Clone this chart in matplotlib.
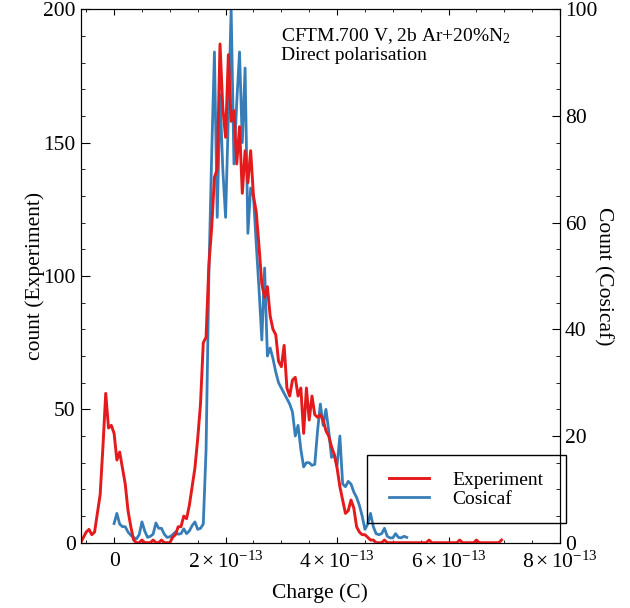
import numpy as np
import matplotlib
matplotlib.use('Agg')
import matplotlib.pyplot as plt
from matplotlib.ticker import MultipleLocator, FuncFormatter
from matplotlib.patches import Rectangle

plt.rcParams['font.family'] = 'Liberation Serif'
plt.rcParams['mathtext.fontset'] = 'custom'
plt.rcParams['mathtext.rm'] = 'Liberation Serif'
plt.rcParams['mathtext.it'] = 'Liberation Serif:italic'

# experiment histogram (left axis), bins of 0.05e-13 C from -0.6e-13 C
exp_start = -0.6e-13
exp_step = 0.05e-13
exp_counts = [0, 2, 4, 5, 3, 4, 11, 18, 36, 56,
              43, 44, 41, 31, 34, 28, 22, 12, 6, 1,
              0, 0, 1, 0, 0, 0, 1, 0, 0, 1,
              0, 0, 0, 2, 3, 6, 6, 10, 9, 14,
              21, 28, 39, 52, 75, 77, 104, 118, 137, 140,
              187, 163, 152, 183, 158, 162, 142, 156, 131, 147,
              135, 147, 130, 124, 111, 97, 92, 96, 85, 80,
              78, 68, 66, 74, 58, 55, 61, 62, 55, 58,
              41, 58, 46, 55, 48, 47, 48, 46, 42, 40,
              36, 33, 28, 21, 16, 11, 12, 16, 13, 6,
              4, 3, 3, 2, 1, 1, 0, 0, 0, 1,
              0, 0, 0, 0, 0, 0, 0, 0, 0, 0,
              0, 0, 0, 0, 0, 1, 0, 0, 0, 0,
              0, 0, 0, 0, 0, 0, 1, 0, 0, 0,
              0, 0, 1, 0, 0, 0, 0, 0, 0, 0,
              0, 1]

# Cosicaf simulation (right axis), bins of 0.05e-13 C from 0
cos_start = 0.0
cos_step = 0.05e-13
cos_counts = [3.6, 5.5, 3.5, 3, 3, 2, 1.4, 1, 0.7, 1.5,
              3.9, 2.2, 1, 1.2, 1.6, 3.7, 2.7, 2.7, 1.6, 1,
              1.1, 1.5, 2, 1.6, 1.7, 2.6, 1.7, 2.2, 3.2, 3.9,
              2.5, 2.7, 3.5, 17.5, 50, 72.5, 92, 61, 84, 70,
              61, 80, 100, 71, 82.5, 92, 75, 89, 58, 66.5,
              65, 56, 47.5, 38, 51.5, 35, 36.5, 34.5, 32, 30,
              29, 28, 27, 26, 24.5, 20, 22, 17.5, 14.2, 15,
              15, 14.5, 14.7, 21, 26, 22, 25, 21, 16, 16.5,
              14.5, 20, 11, 10.5, 11.5, 11, 9.5, 8.5, 7, 5,
              2.5, 3.5, 5.5, 3, 1.7, 1.5, 1.7, 2.7, 1.2, 0.9,
              0.9, 1.7, 1, 0.9, 1.2, 1]

x_ticks = [0, 2e-13, 4e-13, 6e-13, 8e-13]

exp_charge = exp_start + exp_step * np.arange(len(exp_counts))
cos_charge = cos_start + cos_step * np.arange(len(cos_counts))

fig = plt.figure(figsize=(6.3, 6.08), dpi=100)
ax = fig.add_axes([0.128, 0.1074, 0.761, 0.8773])
ax2 = ax.twinx()

l1, = ax.plot(exp_charge, exp_counts, color='#e41a1c', lw=2.1, label='Experiment')
l2, = ax2.plot(cos_charge, cos_counts, color='#377eb8', lw=2, label='Cosicaf')
ax.set_zorder(ax2.get_zorder() + 1)
ax.patch.set_visible(False)

ax.set_xlim(-0.6e-13, 8e-13)
ax.set_ylim(0, 200)
ax2.set_ylim(0, 100)

def charge_fmt(v, pos):
    n = int(round(v / 1e-13))
    if n == 0:
        return '0'
    return r'$%d\times10^{-13}$' % n

ax.set_xticks(x_ticks)
ax.xaxis.set_minor_locator(MultipleLocator(0.5e-13))
ax.xaxis.set_major_formatter(FuncFormatter(charge_fmt))
ax.yaxis.set_major_locator(MultipleLocator(50))
ax.yaxis.set_minor_locator(MultipleLocator(10))
ax2.yaxis.set_major_locator(MultipleLocator(20))
ax2.yaxis.set_minor_locator(MultipleLocator(5))

ax.tick_params(axis='x', which='both', direction='in', top=True, labelsize=15.5, pad=6.5)
ax.tick_params(axis='x', which='major', length=4)
ax.tick_params(axis='x', which='minor', length=2.5)
ax.tick_params(axis='y', which='both', direction='in', right=False, labelsize=15.5)
ax.tick_params(axis='y', which='major', length=6.5)
ax.tick_params(axis='y', which='minor', length=3.2)
ax2.tick_params(axis='y', which='both', direction='in', labelsize=15.5)
ax2.tick_params(axis='y', which='major', length=6)
ax2.tick_params(axis='y', which='minor', length=3.2)

ax.set_xlabel('Charge (C)', fontsize=15.5, labelpad=7.5)
ax.set_ylabel('count (Experiment)', fontsize=15.5, labelpad=-1)
ax2.set_ylabel('Count (Cosicaf)', fontsize=15.5, rotation=270, labelpad=11)

ax.text(0.418, 0.968, 'CFTM.700 V, 2b Ar+20%N$_2$\nDirect polarisation',
        transform=ax.transAxes, fontsize=14, va='top', ha='left', linespacing=1.1)

ax.legend([l1, l2], ['Experiment', 'Cosicaf'], loc='center',
          bbox_to_anchor=(466 / 630, 1 - 489.5 / 608), bbox_transform=fig.transFigure,
          frameon=False, fontsize=14, borderpad=0, labelspacing=0.1,
          handlelength=2.06, handletextpad=1.2)
fig.add_artist(Rectangle((367 / 630, 1 - 522.7 / 608), 199 / 630, 67.7 / 608,
                         transform=fig.transFigure, fill=False, edgecolor='black', lw=1))

fig.savefig('out.png', dpi=100)
